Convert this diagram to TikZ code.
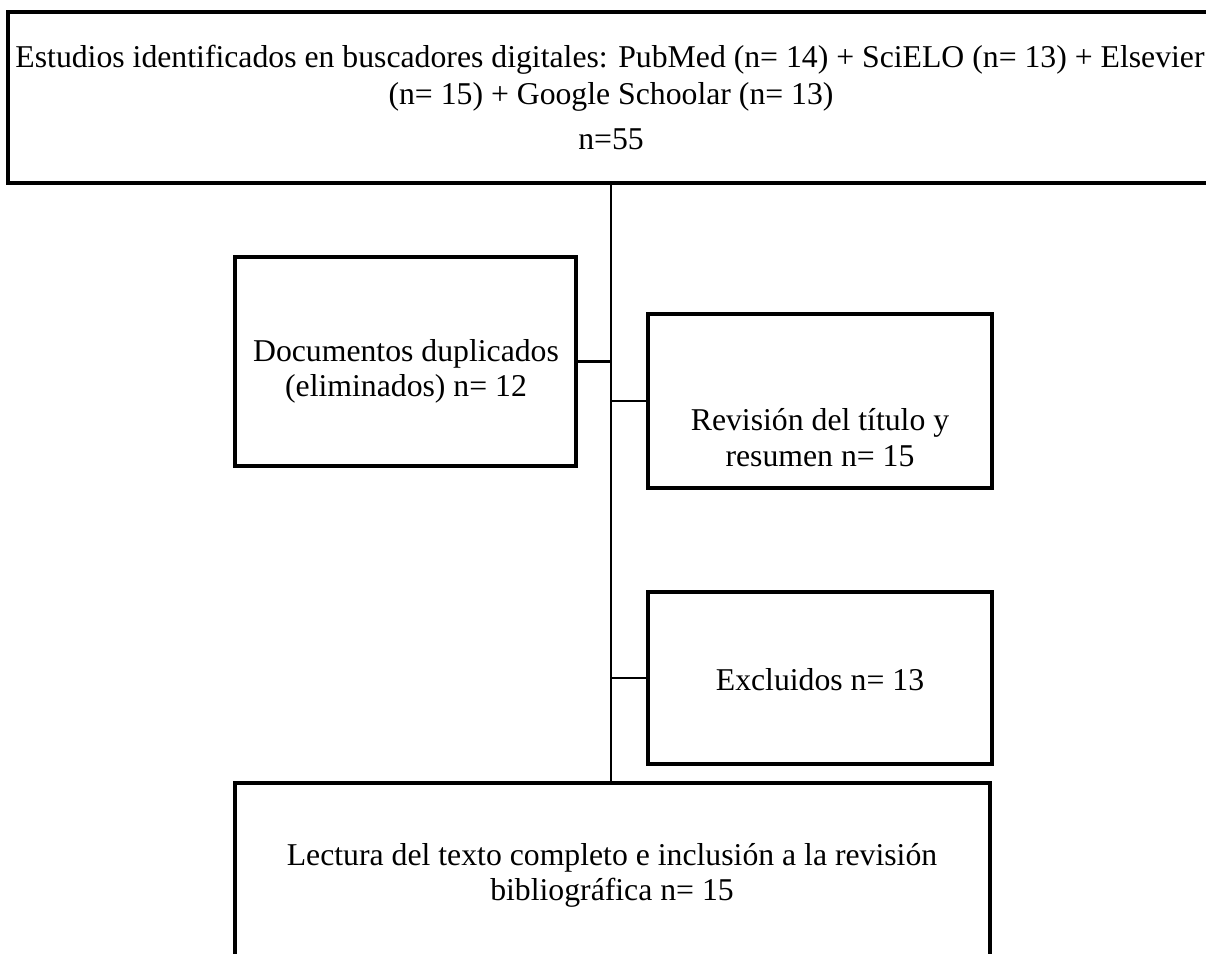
\documentclass[tikz,border=0pt]{standalone}
\usepackage{fontspec}
\setmainfont{Liberation Serif}
\begin{document}
\begin{tikzpicture}[x=0.75pt,y=-0.75pt,
  box/.style={draw, line width=3pt, inner sep=0pt, fill=none},
  conn/.style={line width=2pt},
  txt/.style={anchor=base, inner sep=0pt, font=\fontsize{23.8pt}{28.5pt}\selectfont}]
\useasboundingbox (0,0) rectangle (1206,953);
\clip (0,0) rectangle (1206,953);
% boxes
\node[box, minimum width=904.5pt, minimum height=128.25pt] (top) at (611,97.5) {};
\node[box, minimum width=255.75pt, minimum height=156.75pt] (dup) at (405.5,361.5) {};
\node[box, minimum width=258pt, minimum height=130.5pt] (rev) at (820,401) {};
\node[box, minimum width=258pt, minimum height=129pt] (exc) at (820,678) {};
\node[box, line width=2.6pt, minimum width=566.25pt, minimum height=175.5pt] (bot) at (612.5,900) {};
% connectors
\draw[conn] (top.south) -- (top.south |- bot.north);
\draw[conn] (dup.east) -- (dup.east -| top.south);
\draw[conn] (rev.west) -- (rev.west -| top.south);
\draw[conn] (exc.west) -- (exc.west -| top.south);
% texts
\node[txt] (t1) at (610,67) {Estudios identificados en buscadores digitales: PubMed (n= 14) + SciELO (n= 13) + Elsevier};
\node[txt] (t2) at (611,104) {(n= 15) + Google Schoolar (n= 13)};
\node[txt] (t3) at (611,149) {n=55};
\node[txt] (d1) at (406,361) {Documentos duplicados};
\node[txt] (d2) at (406,396) {(eliminados) n= 12};
\node[txt] (r1) at (820,430) {Revisión del título y};
\node[txt] (r2) at (820,466) {resumen n= 15};
\node[txt] (e1) at (820,690) {Excluidos n= 13};
\node[txt] (b1) at (612,865) {Lectura del texto completo e inclusión a la revisión};
\node[txt] (b2) at (612,900) {bibliográfica n= 15};
\end{tikzpicture}
\end{document}
